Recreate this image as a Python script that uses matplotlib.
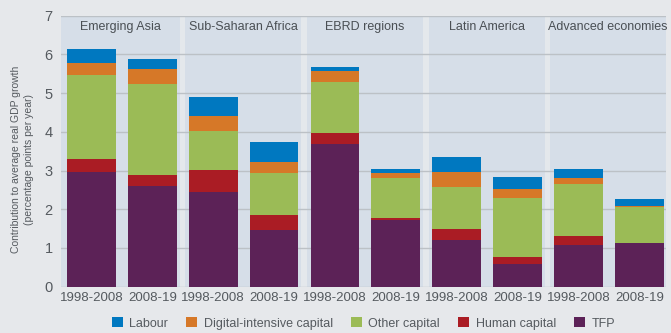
import numpy as np
import matplotlib.pyplot as plt
from matplotlib.patches import Patch

REGIONS = ["Emerging Asia", "Sub-Saharan Africa", "EBRD regions",
           "Latin America", "Advanced economies"]
PERIODS = ["1998-2008", "2008-19"]

# contributions per bar, in region/period order
TFP = [2.97, 2.60, 2.45, 1.47, 3.69, 1.73, 1.21, 0.59, 1.08, 1.13]
HUMAN = [0.33, 0.29, 0.57, 0.38, 0.28, 0.05, 0.28, 0.18, 0.23, 0.00]
OTHER = [2.17, 2.35, 1.00, 1.09, 1.32, 1.03, 1.09, 1.52, 1.34, 0.93]
DIGITAL = [0.31, 0.39, 0.39, 0.28, 0.28, 0.13, 0.38, 0.23, 0.16, 0.03]
LABOUR = [0.36, 0.25, 0.49, 0.52, 0.11, 0.10, 0.39, 0.31, 0.23, 0.18]

SERIES = [
    ("TFP", TFP, "#5c2257"),
    ("Human capital", HUMAN, "#aa1c24"),
    ("Other capital", OTHER, "#9bbb56"),
    ("Digital-intensive capital", DIGITAL, "#d67828"),
    ("Labour", LABOUR, "#0078c0"),
]

FIG_BG = "#e6e8eb"
PANEL_BG = "#d6dee8"
GAP_BG = "#e4e8ec"
TEXT = "#555a5f"

plt.rcParams["font.family"] = ["Liberation Sans", "DejaVu Sans"]

fig = plt.figure(figsize=(6.71, 3.33), dpi=100, facecolor=FIG_BG)
ax = fig.add_axes([0.0909, 0.139, 0.901, 0.814])
ax.set_facecolor(GAP_BG)

n = len(TFP)
x = np.arange(n)

# region panels
for i, name in enumerate(REGIONS):
    left = 2 * i - 0.46 if i > 0 else -0.5
    right = 2 * i + 1.45 if i < len(REGIONS) - 1 else 9.43
    ax.axvspan(left, right, color=PANEL_BG, zorder=0, lw=0)
    ax.text((left + right) / 2, 6.71, name, ha="center", va="center",
            fontsize=9, color="#4a4f54", zorder=4)

for yv in range(0, 8):
    ax.axhline(yv, color="#bcc1c6", lw=1.0, zorder=1)

bottom = np.zeros(n)
for label, vals, col in SERIES:
    ax.bar(x, vals, width=0.8, bottom=bottom, color=col, zorder=2, lw=0)
    bottom += np.array(vals)

ax.set_xlim(-0.5, 9.43)
ax.set_ylim(0, 7)
ax.set_yticks(range(0, 8))
ax.set_xticks(x)
ax.set_xticklabels(PERIODS * len(REGIONS))
ax.tick_params(length=0, labelsize=9.5, labelcolor=TEXT, pad=4)
ax.tick_params(axis="y", labelsize=10.5, pad=6)
for s in ax.spines.values():
    s.set_visible(False)

ax.set_ylabel("Contribution to average real GDP growth\n(percentage points per year)",
              fontsize=7.5, color=TEXT, linespacing=1.35)
ax.yaxis.set_label_coords(-0.045, 0.47)

handles = [Patch(facecolor=c, label=l) for l, _, c in SERIES[::-1]]
ax.legend(handles=handles, loc="center", bbox_to_anchor=(0.5, -0.135),
          ncol=5, frameon=False, fontsize=9, handlelength=0.9,
          handleheight=0.9, handletextpad=0.5, columnspacing=1.45,
          labelcolor=TEXT)

fig.savefig("out.png", dpi=100, facecolor=FIG_BG)
